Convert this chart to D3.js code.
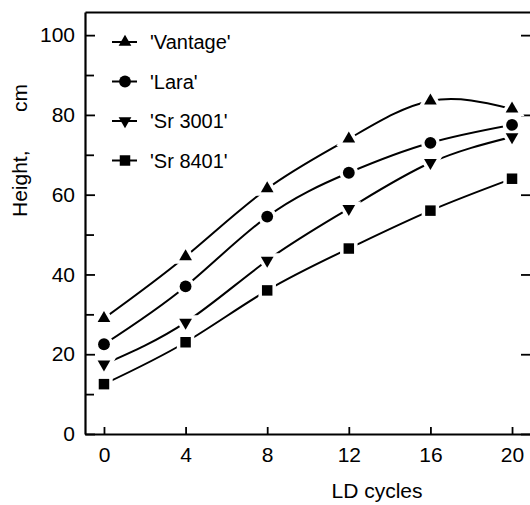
<!DOCTYPE html>
<html><head><meta charset="utf-8">
<script src="https://cdn.jsdelivr.net/npm/d3@7"></script>
<style>
html,body{margin:0;padding:0;background:#fff;}
svg{display:block;font-family:"Liberation Sans",Arial,Helvetica,sans-serif;}
</style></head>
<body>
<svg id="chart" width="530" height="505"></svg>
<script>
const cycles = [0, 4, 8, 12, 16, 20];
const vantage = [29, 44.5, 61.5, 74, 83.5, 81.5];
const lara = [22.5, 37, 54.5, 65.5, 73, 77.5];
const sr3001 = [17.5, 28, 43.5, 56.5, 68, 74.5];
const sr8401 = [12.5, 23, 36, 46.5, 56, 64];
const seriesNames = ["'Vantage'", "'Lara'", "'Sr 3001'", "'Sr 8401'"];
const xTicks = [0, 4, 8, 12, 16, 20];
const yMajor = [0, 20, 40, 60, 80, 100];
const yMinor = [10, 30, 50, 70, 90];

const series = [
  {name: seriesNames[0], values: vantage, sym: "up"},
  {name: seriesNames[1], values: lara, sym: "circle"},
  {name: seriesNames[2], values: sr3001, sym: "down"},
  {name: seriesNames[3], values: sr8401, sym: "square"}
];

const svg = d3.select("#chart");
const x = d3.scaleLinear().domain([-0.93, 20.93]).range([85, 531]);
const y = d3.scaleLinear().domain([0, 105.8]).range([434, 12]);

const symGen = {
  up: d3.symbol().type(d3.symbolTriangle).size(70)(),
  down: d3.symbol().type(d3.symbolTriangle).size(70)(),
  circle: d3.symbol().type(d3.symbolCircle).size(110)(),
  square: d3.symbol().type(d3.symbolSquare).size(110)()
};
function symTransform(s, px, py) {
  return `translate(${px},${py})` + (s === "down" ? " rotate(180)" : "");
}

// axes
const gL = svg.append("g").attr("transform", `translate(${x.range()[0]},0)`)
  .call(d3.axisLeft(y).tickValues(yMajor).tickSizeInner(-10).tickSizeOuter(0).tickPadding(10));
const gLm = svg.append("g").attr("transform", `translate(${x.range()[0]},0)`)
  .call(d3.axisLeft(y).tickValues(yMinor).tickSizeInner(-9).tickSizeOuter(0).tickFormat(""));
gLm.select(".domain").remove();
const gR = svg.append("g").attr("transform", `translate(${x.range()[1]},0)`)
  .call(d3.axisRight(y).tickValues(yMajor).tickSizeInner(-10).tickSizeOuter(0).tickFormat(""));
const gB = svg.append("g").attr("transform", `translate(0,${y(0)})`)
  .call(d3.axisBottom(x).tickValues(xTicks).tickSizeInner(-7).tickSizeOuter(0).tickPadding(12));
const gT = svg.append("g").attr("transform", `translate(0,${y.range()[1]})`)
  .call(d3.axisTop(x).tickValues([]).tickSizeOuter(0));

svg.selectAll(".domain").attr("stroke", "#000").attr("stroke-width", 2.2);
svg.selectAll(".tick line").attr("stroke", "#000").attr("stroke-width", 1.8);
svg.selectAll(".tick text").attr("fill", "#000").attr("font-size", 21)
  .attr("font-family", "Liberation Sans, Arial, sans-serif");
gB.selectAll(".tick text").attr("dy", "0.75em");

// axis titles
svg.append("text").attr("x", 377).attr("y", 498).attr("text-anchor", "middle")
  .attr("font-size", 21).text("LD cycles");
const yl = svg.append("g").attr("transform", "translate(27,0) rotate(-90)");
yl.append("text").attr("x", -217).attr("y", 0).attr("text-anchor", "start")
  .attr("font-size", 21).text("Height,");
yl.append("text").attr("x", -84).attr("y", 0).attr("text-anchor", "end")
  .attr("font-size", 21).text("cm");

// lines
const line = d3.line().x((d, i) => x(cycles[i])).y(d => y(d)).curve(d3.curveNatural);
const gS = svg.append("g");
series.forEach(s => {
  gS.append("path").attr("d", line(s.values)).attr("fill", "none")
    .attr("stroke", "#000").attr("stroke-width", 2);
});
series.forEach(s => {
  const g = gS.append("g");
  g.selectAll("path.halo").data(s.values).join("path").attr("class", "halo")
    .attr("d", symGen[s.sym]).attr("transform", (d, i) => symTransform(s.sym, x(cycles[i]), y(d)))
    .attr("fill", "#fff").attr("stroke", "#fff").attr("stroke-width", 7);
});
series.forEach(s => {
  const g = gS.append("g");
  g.selectAll("path.mk").data(s.values).join("path").attr("class", "mk")
    .attr("d", symGen[s.sym]).attr("transform", (d, i) => symTransform(s.sym, x(cycles[i]), y(d)))
    .attr("fill", "#000");
});

// legend
const legY = [42, 81.5, 121, 160.5];
series.forEach((s, i) => {
  const g = svg.append("g").attr("transform", `translate(0,${legY[i]})`);
  g.append("line").attr("x1", 112).attr("x2", 137).attr("y1", 0).attr("y2", 0)
    .attr("stroke", "#000").attr("stroke-width", 2);
  g.append("path").attr("d", symGen[s.sym]).attr("transform", symTransform(s.sym, 125, 0))
    .attr("fill", "#000");
  g.append("text").attr("x", 150).attr("y", 0).attr("dy", "0.35em")
    .attr("font-size", 20).text(s.name);
});
</script>
</body></html>
